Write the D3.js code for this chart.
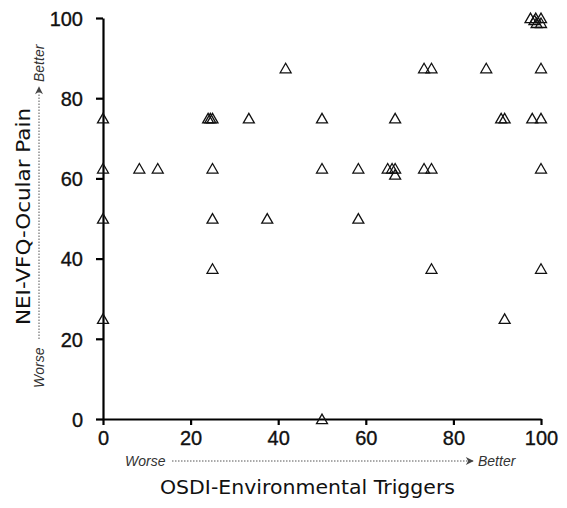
<!DOCTYPE html>
<html>
<head>
<meta charset="utf-8">
<script src="https://cdn.jsdelivr.net/npm/d3@7/dist/d3.min.js"></script>
<style>
  html, body { margin: 0; padding: 0; background: #fff; }
  svg { display: block; }
</style>
</head>
<body>
<svg id="chart" width="567" height="508"></svg>
<script>
// OSDI-Environmental Triggers (x) vs NEI-VFQ-Ocular Pain (y)
const xValues = [0, 0, 0, 0, 8.3, 12.5, 24, 24.5, 25, 25, 25, 25, 33.3, 37.5, 41.7,
  50, 50, 50, 58.3, 58.3, 66.7, 65, 66, 66.7, 66.7, 73.3, 75, 73.3, 75, 75,
  87.5, 90.9, 91.7, 91.7, 97.6, 98.8, 100, 99, 100, 98.5, 100, 98, 100, 100, 100];
const yValues = [25, 50, 62.5, 75, 62.5, 62.5, 75, 75, 75, 62.5, 50, 37.5, 75, 50, 87.5,
  75, 62.5, 0, 62.5, 50, 75, 62.5, 62.5, 62.5, 61, 87.5, 87.5, 62.5, 62.5, 37.5,
  87.5, 75, 75, 25, 100, 100, 100, 98.8, 98.8, 99.5, 87.5, 75, 75, 62.5, 37.5];
const xTicks = [0, 20, 40, 60, 80, 100];
const yTicks = [0, 20, 40, 60, 80, 100];

const svg = d3.select("#chart");
const x = d3.scaleLinear().domain([0, 100]).range([103, 541]);
const y = d3.scaleLinear().domain([0, 100]).range([419, 18]);

// axes
const xAxis = svg.append("g").attr("transform", "translate(0,419)")
  .call(d3.axisBottom(x).tickValues(xTicks).tickSize(6).tickSizeOuter(0).tickPadding(6));
const yAxis = svg.append("g").attr("transform", "translate(103,0)")
  .call(d3.axisLeft(y).tickValues(yTicks).tickSize(7).tickSizeOuter(0).tickPadding(13));
[xAxis, yAxis].forEach(a => {
  a.select(".domain").attr("stroke", "#000").attr("stroke-width", 2.2);
  a.selectAll(".tick line").attr("stroke", "#000").attr("stroke-width", 2.2);
  a.selectAll(".tick text").attr("fill", "#111")
    .attr("stroke", "#111").attr("stroke-width", 0.35)
    .style("font-family", "Liberation Sans, Arial, sans-serif")
    .style("font-size", "20px");
});
yAxis.selectAll(".tick text").attr("dy", "0.36em");

// points (open triangles)
const tri = d3.symbol().type(d3.symbolTriangle).size(52);
svg.append("g").selectAll("path")
  .data(xValues.map((v, i) => [v, yValues[i]]))
  .join("path")
  .attr("d", tri)
  .attr("transform", d => `translate(${x(d[0])},${y(d[1]) + 1.5})`)
  .attr("fill", "none")
  .attr("stroke", "#111")
  .attr("stroke-width", 1.3);

// arrow marker
svg.append("defs").append("marker")
  .attr("id", "arr").attr("viewBox", "0 0 10 10")
  .attr("refX", 9).attr("refY", 5)
  .attr("markerWidth", 9).attr("markerHeight", 8)
  .attr("markerUnits", "userSpaceOnUse")
  .attr("orient", "auto")
  .append("path").attr("d", "M0,0 L10,5 L0,10 L3,5 Z").attr("fill", "#444");

const smallFont = "Liberation Sans, Arial, sans-serif";
const italic = sel => sel.style("font-family", smallFont).style("font-size", "14px")
  .style("font-style", "italic").attr("fill", "#333");

// x direction annotation
svg.append("text").attr("x", 125).attr("y", 466).text("Worse").call(italic);
svg.append("line").attr("x1", 172).attr("y1", 461).attr("x2", 473).attr("y2", 461)
  .attr("stroke", "#555").attr("stroke-width", 1).attr("stroke-dasharray", "1.5,1.5")
  .attr("marker-end", "url(#arr)");
svg.append("text").attr("x", 478).attr("y", 466).text("Better").call(italic);

// y direction annotation
svg.append("text").attr("transform", "translate(44,388) rotate(-90)").text("Worse").call(italic);
svg.append("line").attr("x1", 39).attr("y1", 339).attr("x2", 39).attr("y2", 87)
  .attr("stroke", "#555").attr("stroke-width", 1).attr("stroke-dasharray", "1.5,1.5")
  .attr("marker-end", "url(#arr)");
svg.append("text").attr("transform", "translate(44,82) rotate(-90)").text("Better").call(italic);

// axis titles
svg.append("text").attr("x", 160).attr("y", 494)
  .attr("textLength", 295).attr("lengthAdjust", "spacingAndGlyphs")
  .text("OSDI-Environmental Triggers")
  .style("font-family", "DejaVu Sans, Verdana, sans-serif").style("font-size", "19px").attr("fill", "#111");
svg.append("text").attr("transform", "translate(30,325) rotate(-90)")
  .attr("textLength", 217).attr("lengthAdjust", "spacingAndGlyphs")
  .text("NEI-VFQ-Ocular Pain")
  .style("font-family", "DejaVu Sans, Verdana, sans-serif").style("font-size", "19px").attr("fill", "#111");
</script>
</body>
</html>
